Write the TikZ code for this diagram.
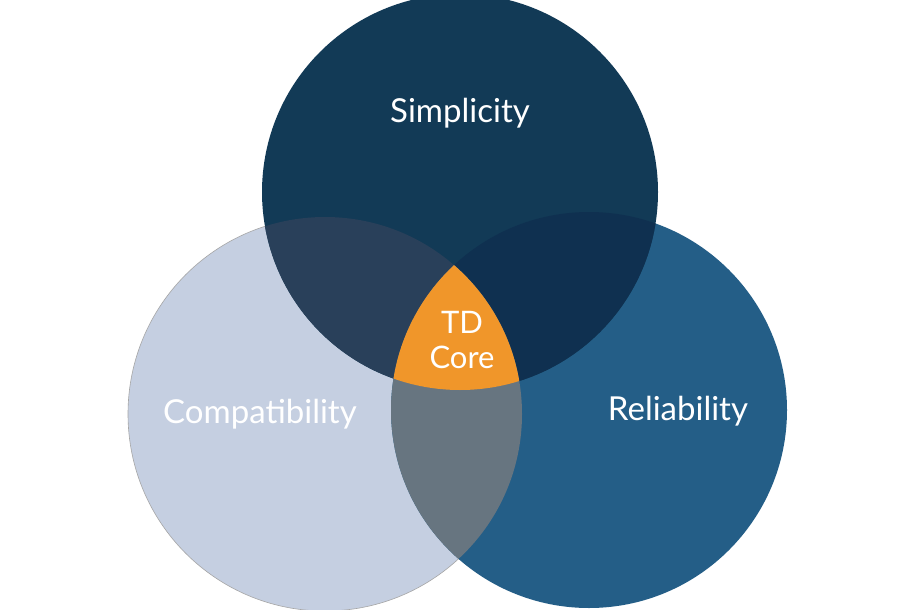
\documentclass[tikz,border=0pt]{standalone}
\usepackage{fontspec}
\setmainfont{Lato}
\definecolor{ctop}{HTML}{123A56}
\definecolor{cleft}{HTML}{C5CFE1}
\definecolor{cright}{HTML}{245E87}
\definecolor{ctl}{HTML}{29405A}
\definecolor{ctr}{HTML}{0F3050}
\definecolor{clr}{HTML}{677580}
\definecolor{ccore}{HTML}{F0962A}
\tikzset{lbl/.style={text=white,font=\fontsize{33}{38}\selectfont,align=center}}
\begin{document}
\begin{tikzpicture}[x=1pt,y=-1pt]
\useasboundingbox[fill=white] (0,0) rectangle (910,610);
\def\top{(460,192) circle (198)}
\def\lft{(325,414) circle (197)}
\def\rgt{(589,410) circle (198)}
\fill[cleft] \lft;
\draw[gray!70,line width=0.6pt] \lft;
\fill[cright] \rgt;
\fill[ctop] \top;
\begin{scope}\clip \top; \fill[ctl] \lft; \fill[ctr] \rgt;\end{scope}
\begin{scope}\clip \lft; \fill[clr] \rgt;
\clip \top; \fill[ccore] \rgt;\end{scope}
\node[lbl] (s) at (460,113) {Simplicity};
\node[lbl] (c) at (260,414) {Compatibility};
\node[lbl] (r) at (678,411) {Reliability};
\node[lbl,font=\fontsize{31}{35}\selectfont] (t) at (462,340) {TD\\Core};
\end{tikzpicture}
\end{document}
